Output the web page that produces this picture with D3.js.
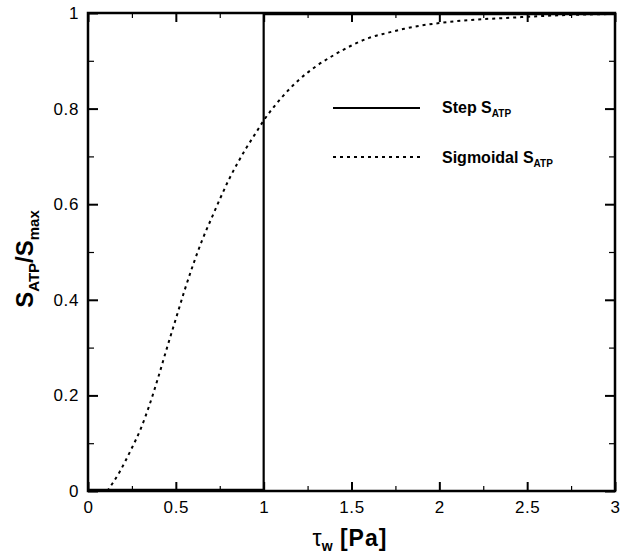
<!DOCTYPE html>
<html><head><meta charset="utf-8">
<script src="https://cdn.jsdelivr.net/npm/d3@7"></script>
<style>body{margin:0;background:#fff}svg{display:block}text{font-family:"Liberation Sans",Arial,sans-serif}</style>
</head><body>
<svg id="c" width="642" height="558"></svg>
<script>
const xTicks = [0, 0.5, 1, 1.5, 2, 2.5, 3];
const xTickLabels = ["0", "0.5", "1", "1.5", "2", "2.5", "3"];
const yTicks = [0, 0.2, 0.4, 0.6, 0.8, 1];
const yTickLabels = ["0", "0.2", "0.4", "0.6", "0.8", "1"];
const xMinor = [0.25, 0.75, 1.25, 1.75, 2.25, 2.75];
const yMinor = [0.1, 0.3, 0.5, 0.7, 0.9];

const stepX = [0, 1, 1, 3];
const stepY = [0, 0, 1, 1];

const sigX = [0.11, 0.18, 0.243, 0.3, 0.35, 0.4, 0.45, 0.5, 0.55, 0.6, 0.65, 0.7, 0.75, 0.8, 0.85, 0.9, 0.95, 1.0, 1.1, 1.2, 1.3, 1.4, 1.5, 1.6, 1.7, 1.8, 1.9, 2.0, 2.2, 2.4, 2.6, 3.0];
const sigY = [0.0, 0.04, 0.085, 0.13, 0.18, 0.238, 0.30, 0.36, 0.42, 0.475, 0.525, 0.568, 0.61, 0.65, 0.685, 0.717, 0.746, 0.775, 0.822, 0.86, 0.889, 0.912, 0.932, 0.948, 0.958, 0.967, 0.974, 0.979, 0.986, 0.99, 0.994, 0.998];

(function () {
const svg = d3.select("#c");
const L = 88, R = 615, T = 13, B = 491;
const x = d3.scaleLinear().domain([0, 3]).range([L, R]);
const y = d3.scaleLinear().domain([0, 1]).range([B, T]);
const FONT = '"Liberation Sans",Arial,sans-serif';

const g = svg.append("g");

// curves
g.append("path").datum(sigX.map((v, i) => [v, sigY[i]]))
  .attr("d", d3.line().x(d => x(d[0])).y(d => y(d[1])).curve(d3.curveMonotoneX)).attr("fill", "none")
  .attr("stroke", "#000").attr("stroke-width", 2).attr("stroke-dasharray", "3,4");
g.append("path").datum(stepX.map((v, i) => [v, stepY[i]]))
  .attr("d", d3.line().x(d => x(d[0])).y(d => y(d[1]))).attr("fill", "none")
  .attr("stroke", "#000").attr("stroke-width", 2.2);
// step segments lying on the frame appear thicker
g.append("path").datum([[stepX[0], stepY[0]], [stepX[1], stepY[1]]]).attr("d", d3.line().x(d => x(d[0])).y(d => y(d[1]) - 1))
  .attr("stroke", "#000").attr("stroke-width", 2.5);
g.append("path").datum([[stepX[2], stepY[2]], [stepX[3], stepY[3]]]).attr("d", d3.line().x(d => x(d[0])).y(d => y(d[1]) + 1))
  .attr("stroke", "#000").attr("stroke-width", 2.5);

// axes (ticks inward)
const axB = d3.axisBottom(x).tickValues(xTicks).tickFormat((d, i) => xTickLabels[i]).tickSizeInner(-9).tickSizeOuter(0).tickPadding(10);
const axT = d3.axisTop(x).tickValues(xTicks).tickFormat("").tickSizeInner(-9).tickSizeOuter(0);
const axL = d3.axisLeft(y).tickValues(yTicks).tickFormat((d, i) => yTickLabels[i]).tickSizeInner(-10).tickSizeOuter(0).tickPadding(9);
const axR = d3.axisRight(y).tickValues(yTicks).tickFormat("").tickSizeInner(-10).tickSizeOuter(0);
const mk = (ax, tr) => {
  const a = svg.append("g").attr("transform", tr).call(ax);
  a.select(".domain").remove();
  a.selectAll("line").attr("stroke", "#000").attr("stroke-width", 2);
  a.selectAll("text").attr("font-size", 17).attr("letter-spacing", 0.6).attr("fill", "#000").attr("font-family", FONT);
  return a;
};
mk(axB, `translate(0,${B})`);
mk(axT, `translate(0,${T})`);
mk(axL, `translate(${L},0)`);
mk(axR, `translate(${R},0)`);
const mkMinor = (ax, tr) => {
  const a = svg.append("g").attr("transform", tr).call(ax);
  a.select(".domain").remove();
  a.selectAll("text").remove();
  a.selectAll("line").attr("stroke", "#000").attr("stroke-width", 1.2);
};
mkMinor(d3.axisBottom(x).tickValues(xMinor).tickSize(-5), `translate(0,${B})`);
mkMinor(d3.axisTop(x).tickValues(xMinor).tickSize(-5), `translate(0,${T})`);
mkMinor(d3.axisLeft(y).tickValues(yMinor).tickSize(-6), `translate(${L},0)`);
mkMinor(d3.axisRight(y).tickValues(yMinor).tickSize(-6), `translate(${R},0)`);

// frame
svg.append("rect").attr("x", L).attr("y", T).attr("width", R - L).attr("height", B - T)
  .attr("fill", "none").attr("stroke", "#000").attr("stroke-width", 2.5);

// legend
const leg = svg.append("g");
leg.append("line").attr("x1", 333).attr("x2", 420).attr("y1", 108).attr("y2", 108).attr("stroke", "#000").attr("stroke-width", 2.2);
leg.append("line").attr("x1", 333).attr("x2", 420).attr("y1", 157).attr("y2", 157).attr("stroke", "#000").attr("stroke-width", 2).attr("stroke-dasharray", "3,4");
const lt1 = leg.append("text").attr("x", 442).attr("y", 113).attr("font-size", 16).attr("font-weight", "bold");
lt1.append("tspan").text("Step S");
lt1.append("tspan").attr("font-size", 10).attr("dy", 4).text("ATP");
const lt2 = leg.append("text").attr("x", 442).attr("y", 163).attr("font-size", 16).attr("font-weight", "bold");
lt2.append("tspan").text("Sigmoidal S");
lt2.append("tspan").attr("font-size", 10).attr("dy", 4).text("ATP");

// x title
const xt = svg.append("text").attr("x", 350).attr("y", 546).attr("text-anchor", "middle").attr("font-size", 23);
xt.append("tspan").text("τ");
xt.append("tspan").attr("font-size", 14).attr("font-weight", "bold").attr("dy", 5).text("w");
xt.append("tspan").attr("font-weight", "bold").attr("dy", -5).attr("letter-spacing", 1).text(" [Pa]");

// y title
const yt = svg.append("text").attr("transform", "translate(33,259) rotate(-90)").attr("text-anchor", "middle").attr("font-size", 24).attr("font-weight", "bold");
yt.append("tspan").text("S");
yt.append("tspan").attr("font-size", 15).attr("dy", 6).text("ATP");
yt.append("tspan").attr("dy", -6).text("/S");
yt.append("tspan").attr("font-size", 15).attr("dy", 6).text("max");
})();
</script>
</body></html>
